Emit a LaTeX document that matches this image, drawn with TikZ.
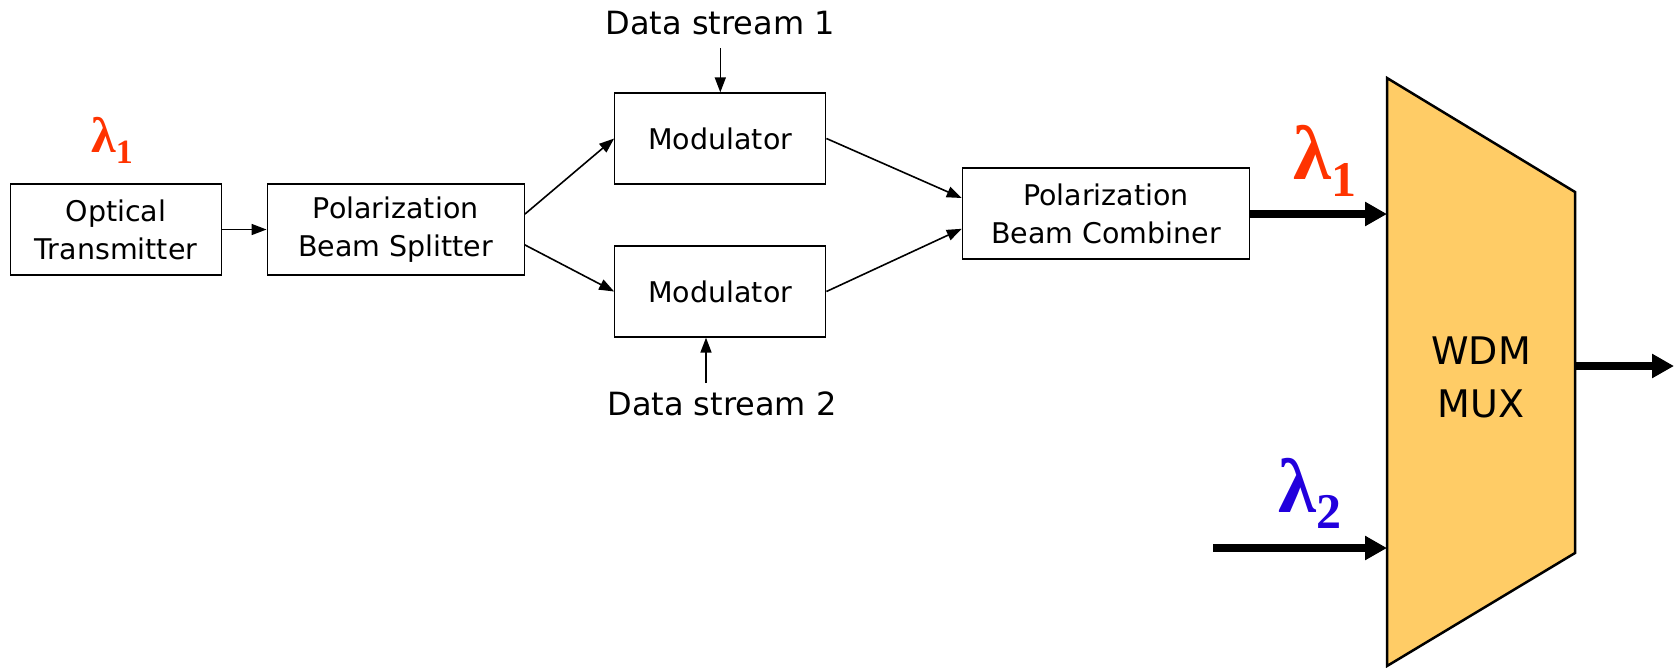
\documentclass[tikz,border=0pt]{standalone}
\usepackage{fontspec}
\setmainfont{DejaVu Sans}
\newfontfamily\lamfont{Liberation Serif}[BoldFont={Liberation Serif Bold}]
\usetikzlibrary{arrows.meta,calc}

\definecolor{lamred}{HTML}{FF3300}
\definecolor{lamblue}{HTML}{2200DD}
\definecolor{muxfill}{HTML}{FFCC66}

\newcommand{\lam}[4]{% size of lambda, size of index, drop of index, index
  {\lamfont\bfseries\fontsize{#1}{#1}\selectfont λ}%
  \raisebox{-#3pt}{\lamfont\bfseries\fontsize{#2}{#2}\selectfont #4}}

\tikzset{
  block/.style={draw=black, line width=1.3pt, inner sep=0pt, align=center,
    font=\fontsize{28.5}{38}\selectfont},
  thin/.style={line width=1.6pt, -{Triangle[length=15pt,width=11pt]}},
  thick/.style={line width=8pt, -{Triangle[length=22pt,width=23pt]}},
  stream/.style={inner xsep=0pt, font=\fontsize{32}{38}\selectfont},
  lamlabel/.style={anchor=base west, inner sep=0pt},
}

\begin{document}
\begin{tikzpicture}[x=1pt, y=-1pt]
\useasboundingbox (0,0) rectangle (1677,667);

% processing blocks
\node[block, minimum width=211pt, minimum height=91pt] (ot)   at (116,229.5)  {Optical\\Transmitter};
\node[block, minimum width=257pt, minimum height=91pt] (pbs)  at (395.7,229.5) {Polarization\\Beam Splitter};
\node[block, minimum width=211pt, minimum height=91pt] (mod1) at (720.3,138.5) {Modulator};
\node[block, minimum width=211pt, minimum height=91pt] (mod2) at (720.3,291.5) {Modulator};
\node[block, minimum width=287pt, minimum height=91pt] (pbc)  at (1105.9,213.4) {Polarization\\Beam Combiner};

% WDM multiplexer
\draw[line width=2.5pt, fill=muxfill, line join=miter]
  (1387,78) -- (1575,192) -- (1575,553) -- (1387,666) -- cycle;
\coordinate (muxin1) at (1387,214);
\coordinate (muxin2) at (1387,548);
\coordinate (muxout) at (1575,366);
\node[align=center, inner sep=0pt, font=\fontsize{38}{53}\selectfont] (mux) at (1481,377) {WDM\\MUX};

% data inputs
\node[stream, inner ysep=12.5pt] (ds1) at (720.3,23.5) {Data stream 1};
\node[stream, inner ysep=0pt] (ds2) at (722,404) {Data stream 2};
\coordinate (ds2in) at (706,383);

% wavelength labels
\node[lamlabel, text=lamred]  (l1a) at (91,152)   {\lam{50}{34}{11}{1}};
\node[lamlabel, text=lamred]  (l1b) at (1293,179) {\lam{77}{50}{17}{1}};
\node[lamlabel, text=lamblue] (l2)  at (1278,512) {\lam{77}{50}{16}{2}};

% signal path
\draw[thin] (ot.east) -- (pbs.west);
\draw[thin] ($(pbs.north east)!1/3!(pbs.south east)$) -- (mod1.west);
\draw[thin] ($(pbs.north east)!2/3!(pbs.south east)$) -- (mod2.west);
\draw[thin] (mod1.east) -- ($(pbc.north west)!1/3!(pbc.south west)$);
\draw[thin] (mod2.east) -- ($(pbc.north west)!2/3!(pbc.south west)$);
\draw[thin] (ds1.south) -- (mod1.north);
\draw[thin] (ds2in) -- (ds2in |- mod2.south);

% optical lines into and out of the multiplexer
\coordinate (l2src) at (1213,548);
\draw[thick] (pbc.east |- muxin1) -- (muxin1);
\draw[thick] (l2src) -- (muxin2);
\coordinate (outend) at (1674,366);
\draw[thick] (muxout) -- (outend);
\end{tikzpicture}
\end{document}
